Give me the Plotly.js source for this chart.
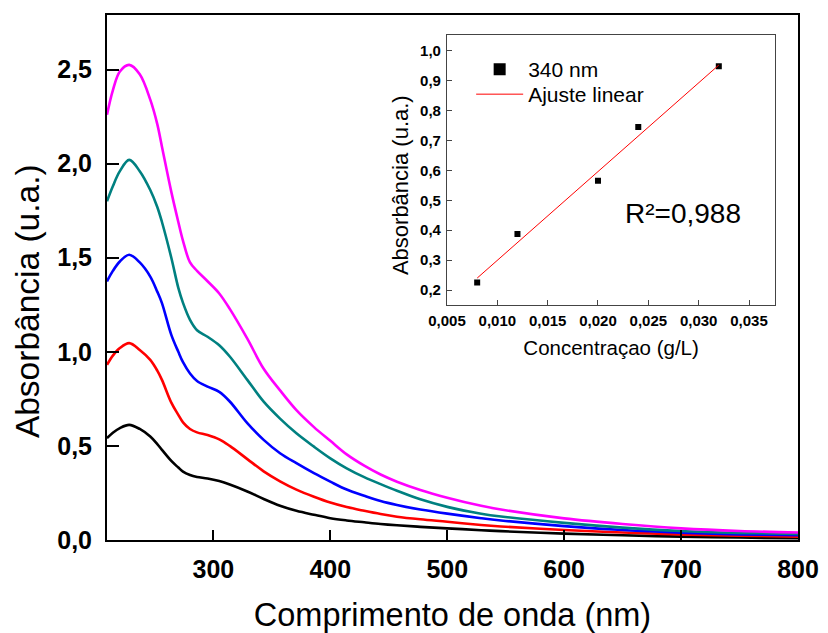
<!DOCTYPE html>
<html>
<head>
<meta charset="utf-8">
<script src="https://cdn.plot.ly/plotly-3.0.1.min.js"></script>
<style>html,body{margin:0;padding:0;background:#fff}#chart{width:828px;height:633px}</style>
</head>
<body>
<div id="chart"></div>
<script>
// Main spectra: wavelength (nm) and absorbance for 5 concentrations
var wavelength = [209,214,220,228,237,246,252,256,264,270,274,280,286,295,305,314,329,343,357,371,386,400,414,429,443,457,477,500,529,546,600,650,700,750,800];
var absMagenta = [2.26,2.39,2.49,2.525,2.475,2.34,2.21,2.09,1.85,1.69,1.59,1.475,1.43,1.375,1.31,1.228,1.07,0.91,0.795,0.69,0.60,0.527,0.455,0.395,0.348,0.31,0.266,0.225,0.182,0.162,0.115,0.085,0.062,0.048,0.04];
var absTeal    = [1.80,1.88,1.96,2.02,1.96,1.86,1.77,1.69,1.50,1.34,1.26,1.17,1.115,1.08,1.035,0.975,0.851,0.735,0.645,0.567,0.496,0.434,0.381,0.334,0.297,0.262,0.216,0.176,0.14,0.125,0.091,0.066,0.048,0.038,0.032];
var absBlue    = [1.374,1.43,1.48,1.516,1.475,1.40,1.32,1.259,1.09,1.00,0.945,0.885,0.845,0.815,0.787,0.736,0.621,0.532,0.461,0.408,0.355,0.31,0.268,0.235,0.207,0.186,0.162,0.14,0.116,0.104,0.074,0.053,0.039,0.030,0.025];
var absRed     = [0.931,0.98,1.02,1.046,1.01,0.957,0.90,0.851,0.73,0.665,0.625,0.59,0.572,0.558,0.535,0.50,0.43,0.365,0.312,0.268,0.23,0.199,0.175,0.155,0.138,0.124,0.11,0.097,0.08,0.072,0.053,0.04,0.03,0.023,0.018];
var absBlack   = [0.541,0.57,0.595,0.612,0.59,0.55,0.51,0.479,0.42,0.385,0.363,0.345,0.335,0.327,0.313,0.295,0.258,0.218,0.182,0.155,0.134,0.116,0.104,0.094,0.085,0.078,0.07,0.062,0.052,0.047,0.034,0.025,0.018,0.013,0.009];
var seriesColors = ['#000000','#ff0000','#0000ff','#008080','#ff00ff'];

// Inset: calibration at 340 nm
var concentration = [0.008,0.012,0.020,0.024,0.032];
var abs340 = [0.225,0.387,0.565,0.745,0.948];
var fitX = [0.008,0.032];
var fitY = [0.24,0.952];
var pointLabel = '340 nm';
var fitLabel = 'Ajuste linear';
var r2Text = 'R²=0,988';
var mainYTitle = 'Absorbância (u.a.)';
var insetYTitle = 'Absorbância (u.a.)';

var FONT = 'Liberation Sans, Arial, sans-serif';
var seriesY = [absBlack, absRed, absBlue, absTeal, absMagenta];
var traces = seriesY.map(function(ys, i){
  return {x: wavelength, y: ys, type:'scatter', mode:'lines', showlegend:false,
    line:{color: seriesColors[i], width:2.6, shape:'spline', smoothing:1}, xaxis:'x', yaxis:'y', hoverinfo:'skip'};
});
traces.push({x: concentration, y: abs340, type:'scatter', mode:'markers', name: pointLabel, legend:'legend',
  marker:{symbol:'square', color:'#000', size:6}, xaxis:'x2', yaxis:'y2'});
traces.push({x: fitX, y: fitY, type:'scatter', mode:'lines', name: fitLabel, legend:'legend2',
  line:{color:'#ff0000', width:1}, xaxis:'x2', yaxis:'y2'});

var layout = {
  width:828, height:633,
  margin:{l:107, r:30, t:15, b:93},
  paper_bgcolor:'#fff', plot_bgcolor:'#fff',
  separators:',.',
  font:{family:FONT, color:'#000'},
  xaxis:{range:[209,800], dtick:100, tick0:0, ticks:'inside', ticklen:10, tickwidth:2, tickcolor:'#000',
    showline:true, linewidth:2, linecolor:'#000', mirror:true, showgrid:false, zeroline:false,
    tickfont:{family:FONT, size:25, weight:'bold'}, ticklabelstandoff:6,
    title:{text:'Comprimento de onda (nm)', font:{family:FONT, size:32.5}, standoff:22}},
  yaxis:{range:[0,2.79], dtick:0.5, tick0:0, tickformat:'.1f', ticks:'inside', ticklen:12, tickwidth:2, tickcolor:'#000',
    showline:true, linewidth:2, linecolor:'#000', mirror:true, showgrid:false, zeroline:false,
    tickfont:{family:FONT, size:25, weight:'bold'}, ticklabelstandoff:8},
  xaxis2:{domain:[0.492,0.967], anchor:'y2', range:[0.005,0.0376], dtick:0.005, tick0:0, tickformat:'.3f',
    ticks:'inside', ticklen:5, tickwidth:1, tickcolor:'#444', showline:true, linewidth:1, linecolor:'#444', mirror:true,
    showgrid:false, zeroline:false, tickfont:{family:FONT, size:15, weight:'bold'}, ticklabelstandoff:2,
    title:{text:'Concentraçao (g/L)', font:{family:FONT, size:20.5}, standoff:12}},
  yaxis2:{domain:[0.4476,0.9619], anchor:'x2', range:[0.15,1.0525], dtick:0.1, tick0:0, tickformat:'.1f',
    ticks:'inside', ticklen:5, tickwidth:1, tickcolor:'#444', showline:true, linewidth:1, linecolor:'#444', mirror:true,
    showgrid:false, zeroline:false, tickfont:{family:FONT, size:15, weight:'bold'}, ticklabelstandoff:2},
  legend:{x:0.527, y:0.935, xanchor:'left', yanchor:'top', bgcolor:'rgba(0,0,0,0)',
    font:{family:FONT, size:21}, itemsizing:'constant', itemwidth:47},
  legend2:{x:0.527, y:0.8876, xanchor:'left', yanchor:'top', bgcolor:'rgba(0,0,0,0)',
    font:{family:FONT, size:21}, itemwidth:47},
  annotations:[
    {xref:'x2', yref:'y2', x:0.0284, y:0.4575, text:r2Text, showarrow:false,
      font:{family:FONT, size:28, color:'#000'}},
    {xref:'paper', yref:'paper', x:-0.1158, y:0.455, text:mainYTitle, textangle:-90, showarrow:false,
      xanchor:'center', yanchor:'middle', font:{family:FONT, size:33.5, color:'#000'}},
    {xref:'paper', yref:'paper', x:0.424, y:0.676, text:insetYTitle, textangle:-90, showarrow:false,
      xanchor:'center', yanchor:'middle', font:{family:FONT, size:22, color:'#000'}}
  ]
};
Plotly.newPlot('chart', traces, layout, {displayModeBar:false, staticPlot:true});
</script>
</body>
</html>
